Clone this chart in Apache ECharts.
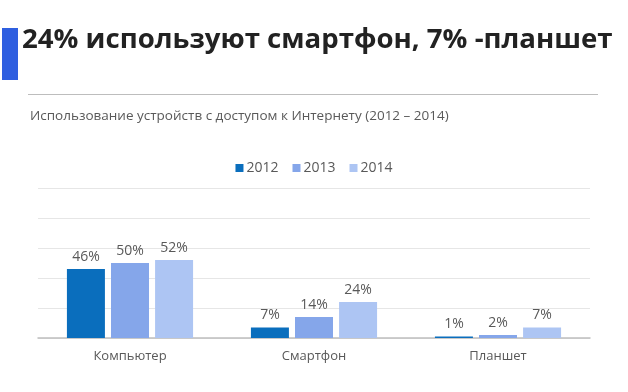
<!DOCTYPE html>
<html>
<head>
<meta charset="utf-8">
<script src="https://cdn.jsdelivr.net/npm/echarts@6/dist/echarts.min.js"></script>
<style>
html,body{margin:0;padding:0;background:#fff;}
#c{width:628px;height:392px;}
</style>
</head>
<body>
<div id="c"></div>
<script>
const categories = ['Компьютер', 'Смартфон', 'Планшет'];
const years = ['2012', '2013', '2014'];
const values2012 = [46, 7, 1];
const values2013 = [50, 14, 2];
const values2014 = [52, 24, 7];
const colors = ['#0a6ebd', '#85a6ea', '#adc5f3'];
const titleText = '24% используют смартфон, 7% -планшет';
const subtitleText = 'Использование устройств с доступом к Интернету (2012 – 2014)';

const seriesValues = [values2012, values2013, values2014];
const FONT = '"Open Sans", "Noto Sans", sans-serif';

const chart = echarts.init(document.getElementById('c'), null, {renderer: 'canvas'});
chart.setOption({
  animation: false,
  backgroundColor: '#fff',
  color: colors,
  title: [
    {
      text: titleText,
      left: 22, top: 26, padding: 0,
      textStyle: {fontFamily: FONT, fontWeight: 'bold', fontSize: 27.6, color: '#222'}
    },
    {
      text: subtitleText,
      left: 30, top: 109, padding: 0,
      textStyle: {fontFamily: FONT, fontWeight: 'normal', fontSize: 13.5, color: '#595959'}
    }
  ],
  graphic: [
    {type: 'rect', shape: {x: 2, y: 28, width: 16, height: 52}, style: {fill: '#2f5fe0'}},
    {type: 'line', shape: {x1: 28, y1: 94.5, x2: 598, y2: 94.5}, style: {stroke: '#bdbdbd', lineWidth: 1}}
  ],
  legend: {
    top: 156, left: 'center',
    itemWidth: 8, itemHeight: 8, itemGap: 14,
    icon: 'rect',
    textStyle: {fontFamily: FONT, fontSize: 14, color: '#595959', padding: [0, 0, 0, -2]},
    data: years
  },
  grid: {left: 38, right: 38, top: 188, bottom: 54, containLabel: false},
  xAxis: {
    type: 'category',
    data: categories,
    axisLine: {lineStyle: {color: '#bfbfbf', width: 1.5}},
    axisTick: {show: false},
    axisLabel: {fontFamily: FONT, fontSize: 13, color: '#595959', margin: 12}
  },
  yAxis: {
    type: 'value',
    min: 0, max: 100, interval: 20,
    axisLabel: {show: false},
    axisLine: {show: false},
    axisTick: {show: false},
    splitLine: {lineStyle: {color: '#e6e6e6'}}
  },
  series: years.map((y, i) => ({
    name: y,
    type: 'bar',
    data: seriesValues[i],
    barWidth: 38,
    barGap: '16%',
    itemStyle: {color: colors[i]},
    label: {
      show: true, position: 'top', distance: 5,
      formatter: '{c}%',
      fontFamily: FONT, fontSize: 14, color: '#595959'
    }
  }))
});
</script>
</body>
</html>
